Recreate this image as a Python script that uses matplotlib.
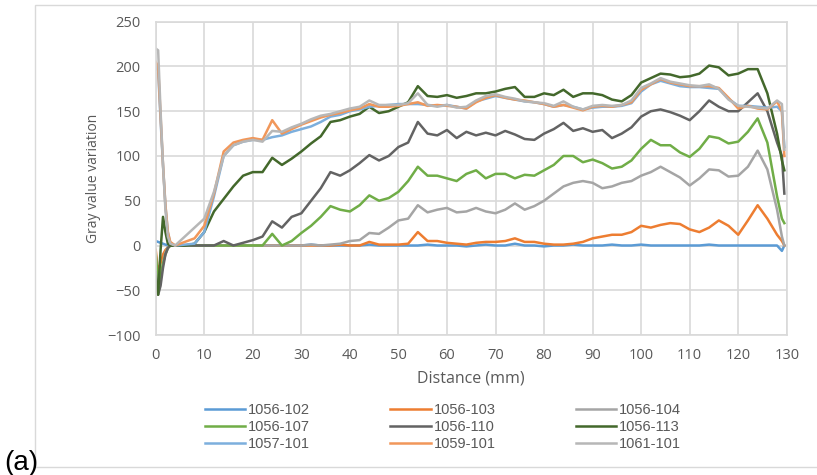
import numpy as np
import matplotlib
matplotlib.use("Agg")
from matplotlib import pyplot as plt
from matplotlib.patches import Rectangle

# sampling positions along the profile (mm)
distance = [0, 0.5, 1, 1.5, 2, 2.5, 3, 4] + list(range(6, 129, 2)) + [129, 129.5]

labels = ["1056-102", "1056-103", "1056-104", "1056-107", "1056-110",
          "1056-113", "1057-101", "1059-101", "1061-101"]
colors = ["#5B9BD5", "#ED7D31", "#A5A5A5", "#70AD47", "#636363",
          "#43682B", "#7CAFDD", "#F1975A", "#B7B7B7"]

# gray value variation
s1056_102 = [5, 4, 3, 2, 1, 0, 0, 0,
             0, 0, 0, 0, 0, 0, 0, 0, 0, 0,
             0, 0, 0, 1, 0, 0, 0, 0, 0, 1,
             0, 0, 0, 0, 0, 1, 0, 0, 0, -1,
             0, 1, 0, 0, 2, 0, 0, -1, 0, 0,
             1, 0, 0, 0, 1, 0, 0, 1, 0, 0,
             0, 0, 0, 0, 1, 0, 0, 0, 0, 0,
             0, 0, -6, 0]
s1056_103 = [-5, -30, -20, -10, -5, -2, 0, 0,
             0, 0, 0, 0, 0, 0, 0, 0, 0, 0,
             0, 0, 0, 0, 0, 0, 1, 0, 0, 4,
             1, 1, 1, 2, 15, 5, 5, 3, 2, 1,
             3, 4, 4, 5, 8, 4, 4, 2, 1, 1,
             2, 4, 8, 10, 12, 12, 15, 22, 20, 23,
             25, 24, 18, 15, 20, 28, 22, 12, 28, 45,
             30, 12, 5, 0]
s1056_104 = [-10, -45, -35, -20, -8, -2, 0, 0,
             0, 0, 0, 0, 0, 0, 0, 0, 0, 0,
             0, 0, 0, 1, 0, 1, 2, 5, 6, 14,
             13, 20, 28, 30, 45, 37, 40, 42, 37, 38,
             42, 38, 36, 40, 47, 40, 44, 50, 58, 66,
             70, 72, 70, 64, 66, 70, 72, 78, 82, 88,
             82, 76, 67, 75, 85, 84, 77, 78, 88, 106,
             85, 40, 10, 0]
s1056_107 = [-10, -40, -35, -20, -10, -3, 0, 0,
             0, 0, 0, 0, 0, 0, 0, 0, 0, 13,
             0, 5, 14, 22, 32, 44, 40, 38, 45, 56,
             50, 53, 60, 72, 88, 78, 78, 75, 72, 80,
             84, 75, 80, 80, 75, 79, 78, 84, 90, 100,
             100, 93, 96, 92, 86, 88, 95, 108, 118, 112,
             112, 104, 99, 108, 122, 120, 114, 116, 127, 142,
             115, 55, 30, 25]
s1056_110 = [-30, -55, -45, -25, -10, -3, 0, 0,
             0, 0, 0, 0, 5, 0, 3, 6, 10, 27,
             20, 32, 36, 50, 64, 82, 78, 84, 92, 101,
             95, 100, 110, 115, 138, 125, 123, 129, 120, 127,
             123, 126, 123, 128, 124, 119, 118, 125, 130, 137,
             128, 131, 127, 129, 120, 125, 132, 144, 150, 152,
             149, 145, 140, 150, 162, 155, 150, 150, 160, 170,
             150, 115, 100, 58]
s1056_113 = [-35, -55, -5, 32, 15, 2, 0, 0,
             0, 2, 15, 38, 52, 66, 78, 82, 82, 98,
             90, 97, 105, 114, 122, 138, 140, 144, 147, 155,
             148, 150, 155, 160, 178, 167, 166, 168, 165, 167,
             170, 170, 172, 175, 177, 166, 166, 170, 168, 174,
             166, 170, 170, 168, 163, 161, 168, 182, 187, 192,
             191, 188, 189, 192, 201, 199, 190, 192, 197, 197,
             170, 125, 95, 84]
s1057_101 = [200, 195, 140, 90, 45, 15, 3, 0,
             1, 2, 15, 55, 100, 112, 116, 118, 118, 121,
             123, 127, 130, 133, 138, 144, 146, 150, 152, 155,
             156, 157, 158, 158, 158, 157, 156, 157, 155, 153,
             161, 164, 167, 165, 163, 161, 160, 158, 155, 157,
             155, 152, 154, 155, 155, 156, 159, 172, 180, 184,
             181, 178, 177, 177, 176, 175, 164, 156, 156, 155,
             154, 155, 150, 110]
s1059_101 = [205, 200, 145, 90, 45, 15, 4, 0,
             4, 8, 22, 58, 105, 115, 118, 120, 118, 140,
             125, 130, 135, 139, 143, 146, 148, 151, 153, 158,
             155, 155, 156, 158, 160, 156, 157, 156, 155, 153,
             160, 165, 168, 165, 163, 162, 160, 158, 155, 157,
             154, 151, 155, 156, 155, 157, 160, 174, 180, 186,
             182, 180, 178, 178, 178, 176, 165, 153, 156, 153,
             152, 161, 150, 100]
s1061_101 = [220, 218, 150, 90, 40, 10, 2, 0,
             10, 20, 30, 60, 100, 112, 116, 118, 116, 128,
             127, 132, 136, 141, 145, 147, 150, 153, 155, 162,
             157, 157, 157, 159, 170, 157, 155, 157, 154, 155,
             162, 167, 169, 166, 164, 161, 160, 159, 156, 161,
             155, 152, 156, 157, 156, 157, 162, 176, 181, 187,
             183, 181, 179, 178, 180, 175, 163, 156, 155, 154,
             153, 162, 158, 107]

series = [s1056_102, s1056_103, s1056_104, s1056_107, s1056_110,
          s1056_113, s1057_101, s1059_101, s1061_101]

txt = "#595959"
grid = "#d9d9d9"
font = ["Open Sans", "DejaVu Sans"]

fig = plt.figure(figsize=(8.17, 4.75), dpi=100)
ax = fig.add_axes([0.1906, 0.2947, 0.7724, 0.6596])

for y, lab, c in zip(series, labels, colors):
    ax.plot(distance, y, color=c, lw=1.8, label=lab, solid_joinstyle="round")

ax.set_xlim(0, 130)
ax.set_ylim(-100, 250)
ax.set_xticks(np.arange(0, 131, 10))
ax.set_yticks(np.arange(-100, 251, 50))
ax.grid(True, color=grid, lw=1.2)
ax.set_axisbelow(True)
for sp in ax.spines.values():
    sp.set_color(grid)
    sp.set_linewidth(1.2)
ax.tick_params(length=0, labelsize=10.5, colors=txt)
ax.tick_params(axis="y", pad=11)
ax.tick_params(axis="x", pad=9)
for t in ax.get_xticklabels() + ax.get_yticklabels():
    t.set_fontfamily(font)
ax.set_xlabel("Distance (mm)", fontsize=11.5, color=txt, family=font, labelpad=6)
ax.set_ylabel("Gray value variation", fontsize=10, color=txt, family=font, labelpad=4)

# outer chart frame
fig.patches.append(Rectangle((35 / 817, 8 / 475), 1.0, 1 - 13 / 475, transform=fig.transFigure,
                             fill=False, edgecolor=grid, lw=1.0))

# legend reads row by row, matplotlib fills column by column
handles, labs = ax.get_legend_handles_labels()
order = [0, 3, 6, 1, 4, 7, 2, 5, 8]
leg = fig.legend([handles[i] for i in order], [labs[i] for i in order], loc="center",
                 bbox_to_anchor=(443 / 817, 1 - 427 / 475),
                 ncol=3, frameon=False, handlelength=2.75, handletextpad=0.2,
                 columnspacing=5.5, labelspacing=0.2,
                 prop={"family": ["Liberation Sans", "DejaVu Sans"], "size": 10.5})
for t in leg.get_texts():
    t.set_color(txt)

fig.text(0.005, 0.01, "(a)", fontsize=20, family=["Liberation Sans", "DejaVu Sans"], color="black")

fig.savefig("out.png", dpi=100)
